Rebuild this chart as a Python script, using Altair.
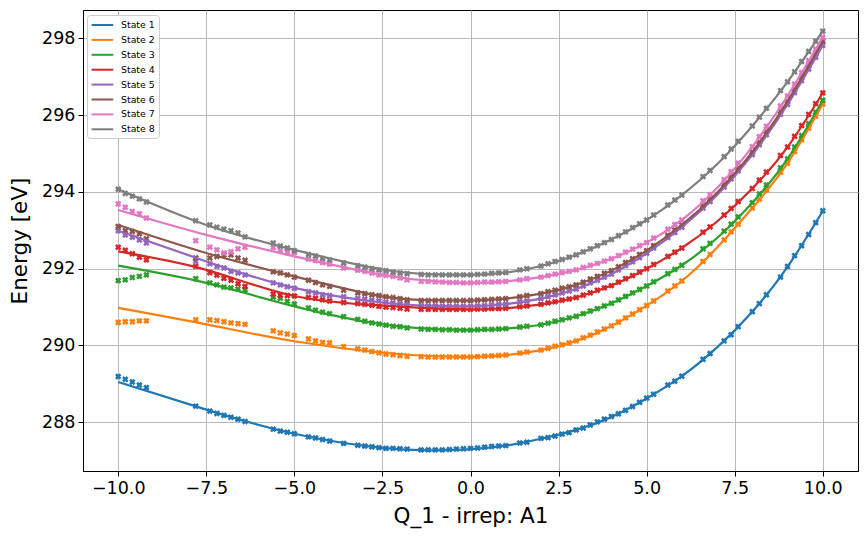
import altair as alt
import pandas as pd

# Sampled displacements along Q_1 (same grid for every state)
x_points = [-10.0, -9.8, -9.6, -9.4, -9.2, -7.8, -7.4, -7.2, -7.0, -6.8, -6.6, -6.4,
            -5.6, -5.4, -5.2, -5.0, -4.6, -4.4, -4.2, -4.0, -3.6, -3.2, -3.0, -2.8,
            -2.6, -2.4, -2.2, -2.0, -1.8, -1.4, -1.2, -1.0, -0.8, -0.6, -0.4, -0.2, 0.0,
            0.2, 0.4, 0.6, 0.8, 1.0, 1.4, 1.6, 2.0, 2.2, 2.4, 2.6, 2.8, 3.0, 3.2, 3.4,
            3.6, 3.8, 4.0, 4.2, 4.4, 4.6, 4.8, 5.0, 5.2, 5.6, 5.8, 6.0, 6.6, 6.8, 7.2,
            7.4, 7.6, 8.0, 8.2, 8.4, 8.8, 9.0, 9.2, 9.4, 9.6, 9.8, 10.0]

# Computed energies (eV) per state
state1_points = [289.19, 289.12, 289.05, 288.97, 288.90, 288.42, 288.29, 288.23, 288.18, 288.13, 288.08, 288.02,
                 287.82, 287.77, 287.74, 287.70, 287.62, 287.59, 287.55, 287.51, 287.45, 287.40, 287.38, 287.36,
                 287.34, 287.32, 287.32, 287.31, 287.30, 287.28, 287.28, 287.28, 287.28, 287.29, 287.30, 287.31, 287.32,
                 287.33, 287.35, 287.37, 287.38, 287.39, 287.46, 287.48, 287.58, 287.60, 287.64, 287.69, 287.73, 287.80, 287.85, 287.93,
                 288.01, 288.08, 288.15, 288.22, 288.31, 288.41, 288.52, 288.63, 288.73, 288.97, 289.07, 289.20, 289.64, 289.79, 290.12,
                 290.28, 290.49, 290.88, 291.09, 291.32, 291.78, 292.06, 292.34, 292.60, 292.89, 293.20, 293.51]
state2_points = [290.60, 290.62, 290.62, 290.64, 290.64, 290.67, 290.67, 290.65, 290.62, 290.59, 290.57, 290.55,
                 290.38, 290.33, 290.30, 290.26, 290.17, 290.12, 290.08, 290.07, 289.97, 289.91, 289.88, 289.84,
                 289.81, 289.78, 289.76, 289.74, 289.72, 289.71, 289.70, 289.70, 289.70, 289.70, 289.70, 289.70, 289.70,
                 289.71, 289.72, 289.73, 289.74, 289.75, 289.80, 289.83, 289.88, 289.93, 289.98, 290.02, 290.07, 290.12, 290.20, 290.27,
                 290.35, 290.43, 290.51, 290.61, 290.72, 290.82, 290.93, 291.04, 291.16, 291.42, 291.55, 291.68, 292.19, 292.37, 292.75,
                 292.96, 293.16, 293.58, 293.81, 294.05, 294.51, 294.75, 295.05, 295.36, 295.66, 295.97, 296.29]
state3_points = [291.69, 291.71, 291.77, 291.80, 291.84, 291.74, 291.63, 291.58, 291.52, 291.50, 291.47, 291.45,
                 291.26, 291.23, 291.15, 291.08, 290.98, 290.92, 290.87, 290.83, 290.75, 290.68, 290.63, 290.59,
                 290.56, 290.53, 290.50, 290.49, 290.46, 290.43, 290.42, 290.42, 290.41, 290.41, 290.40, 290.40, 290.40,
                 290.41, 290.42, 290.42, 290.43, 290.44, 290.48, 290.50, 290.54, 290.58, 290.63, 290.67, 290.72, 290.76, 290.83, 290.90,
                 290.96, 291.03, 291.10, 291.19, 291.28, 291.37, 291.46, 291.55, 291.66, 291.87, 291.98, 292.09, 292.52, 292.66, 292.98,
                 293.16, 293.35, 293.72, 293.95, 294.18, 294.63, 294.86, 295.17, 295.47, 295.78, 296.08, 296.39]
state4_points = [292.56, 292.48, 292.39, 292.30, 292.23, 292.06, 291.90, 291.83, 291.75, 291.70, 291.61, 291.54,
                 291.34, 291.31, 291.30, 291.29, 291.25, 291.23, 291.19, 291.16, 291.12, 291.09, 291.07, 291.05,
                 291.02, 291.00, 290.99, 290.97, 290.95, 290.94, 290.94, 290.94, 290.94, 290.94, 290.94, 290.94, 290.94,
                 290.95, 290.95, 290.96, 290.96, 290.97, 291.01, 291.03, 291.07, 291.11, 291.14, 291.18, 291.21, 291.25, 291.31, 291.37,
                 291.44, 291.50, 291.56, 291.65, 291.74, 291.82, 291.91, 292.00, 292.11, 292.32, 292.43, 292.54, 292.95, 293.09, 293.40,
                 293.57, 293.75, 294.09, 294.31, 294.52, 294.95, 295.17, 295.45, 295.73, 296.02, 296.30, 296.58]
state5_points = [292.99, 292.88, 292.82, 292.75, 292.67, 292.19, 292.13, 292.06, 292.02, 291.93, 291.89, 291.84,
                 291.63, 291.58, 291.53, 291.49, 291.40, 291.37, 291.32, 291.30, 291.27, 291.23, 291.21, 291.18,
                 291.16, 291.13, 291.11, 291.09, 291.07, 291.04, 291.03, 291.03, 291.02, 291.02, 291.02, 291.02, 291.02,
                 291.03, 291.04, 291.06, 291.07, 291.08, 291.14, 291.16, 291.22, 291.27, 291.32, 291.37, 291.42, 291.47, 291.55, 291.63,
                 291.70, 291.78, 291.86, 291.97, 292.08, 292.18, 292.29, 292.40, 292.54, 292.81, 292.94, 293.08, 293.58, 293.75, 294.13,
                 294.34, 294.55, 294.97, 295.23, 295.49, 296.02, 296.28, 296.59, 296.90, 297.20, 297.51, 297.82]
state6_points = [293.10, 292.99, 292.97, 292.91, 292.78, 292.28, 292.28, 292.32, 292.36, 292.36, 292.28, 292.22,
                 291.92, 291.89, 291.84, 291.78, 291.70, 291.64, 291.58, 291.54, 291.44, 291.37, 291.35, 291.32,
                 291.30, 291.27, 291.25, 291.22, 291.19, 291.17, 291.17, 291.17, 291.17, 291.17, 291.17, 291.17, 291.17,
                 291.18, 291.19, 291.20, 291.21, 291.22, 291.27, 291.30, 291.35, 291.40, 291.44, 291.49, 291.53, 291.58, 291.65, 291.73,
                 291.80, 291.88, 291.95, 292.05, 292.16, 292.26, 292.37, 292.47, 292.60, 292.87, 293.01, 293.14, 293.64, 293.81, 294.19,
                 294.40, 294.62, 295.04, 295.30, 295.57, 296.10, 296.36, 296.67, 296.99, 297.30, 297.62, 297.93]
state7_points = [293.69, 293.60, 293.49, 293.43, 293.32, 292.73, 292.56, 292.49, 292.41, 292.44, 292.52, 292.56,
                 292.55, 292.47, 292.43, 292.42, 292.25, 292.21, 292.16, 292.12, 292.02, 291.96, 291.93, 291.89,
                 291.84, 291.83, 291.80, 291.76, 291.71, 291.67, 291.67, 291.66, 291.65, 291.64, 291.64, 291.63, 291.63,
                 291.64, 291.65, 291.65, 291.66, 291.67, 291.71, 291.74, 291.78, 291.82, 291.86, 291.90, 291.93, 291.97, 292.03, 292.09,
                 292.14, 292.20, 292.26, 292.34, 292.43, 292.51, 292.60, 292.68, 292.80, 293.03, 293.15, 293.27, 293.77, 293.93, 294.32,
                 294.53, 294.75, 295.18, 295.44, 295.71, 296.24, 296.50, 296.81, 297.11, 297.42, 297.72, 298.03]
state8_points = [294.07, 293.96, 293.89, 293.82, 293.74, 293.25, 293.14, 293.08, 293.03, 292.99, 292.93, 292.83,
                 292.67, 292.59, 292.54, 292.47, 292.37, 292.33, 292.27, 292.23, 292.15, 292.08, 292.04, 292.00,
                 291.97, 291.95, 291.91, 291.89, 291.87, 291.85, 291.84, 291.84, 291.84, 291.84, 291.84, 291.84, 291.84,
                 291.85, 291.86, 291.88, 291.89, 291.90, 291.97, 292.00, 292.07, 292.13, 292.19, 292.24, 292.30, 292.36, 292.44, 292.52,
                 292.60, 292.68, 292.76, 292.86, 292.96, 293.07, 293.17, 293.27, 293.40, 293.66, 293.79, 293.92, 294.40, 294.56, 294.92,
                 295.12, 295.32, 295.72, 295.95, 296.18, 296.64, 296.87, 297.13, 297.40, 297.66, 297.93, 298.19]

# Fitted curves, sampled at these displacements
fit_x = [-10.0, -7.5, -5.0, -2.5, -1.0, 0.0, 1.0, 2.0, 3.0, 4.0, 5.0, 6.0, 7.0, 8.0, 9.0, 10.0]
state1_fit = [289.05, 288.33, 287.70, 287.33, 287.27, 287.30, 287.39, 287.57, 287.80, 288.14, 288.62, 289.20, 289.95, 290.88, 292.05, 293.50]
state2_fit = [290.98, 290.55, 290.11, 289.81, 289.72, 289.70, 289.75, 289.88, 290.12, 290.51, 291.04, 291.68, 292.55, 293.58, 294.75, 296.29]
state3_fit = [292.08, 291.63, 291.02, 290.55, 290.43, 290.40, 290.44, 290.54, 290.76, 291.10, 291.55, 292.09, 292.80, 293.72, 294.86, 296.39]
state4_fit = [292.45, 291.97, 291.29, 291.04, 290.96, 290.94, 290.97, 291.07, 291.25, 291.56, 292.00, 292.54, 293.23, 294.09, 295.17, 296.58]
state5_fit = [292.99, 292.19, 291.50, 291.12, 291.03, 291.02, 291.08, 291.22, 291.47, 291.86, 292.40, 293.08, 293.92, 294.97, 296.28, 297.82]
state6_fit = [293.14, 292.41, 291.80, 291.28, 291.18, 291.17, 291.22, 291.35, 291.58, 291.95, 292.47, 293.14, 293.98, 295.04, 296.36, 297.93]
state7_fit = [293.53, 292.88, 292.32, 291.84, 291.67, 291.63, 291.67, 291.78, 291.97, 292.26, 292.68, 293.27, 294.10, 295.18, 296.50, 298.03]
state8_fit = [294.07, 293.14, 292.49, 291.98, 291.85, 291.84, 291.90, 292.07, 292.36, 292.76, 293.27, 293.92, 294.72, 295.72, 296.87, 298.19]

state_names = [f"State {i}" for i in range(1, 9)]
state_colors = ["#1f77b4", "#ff7f0e", "#2ca02c", "#d62728",
                "#9467bd", "#8c564b", "#e377c2", "#7f7f7f"]
x_ticks = [-10.0, -7.5, -5.0, -2.5, 0.0, 2.5, 5.0, 7.5, 10.0]
y_ticks = [288, 290, 292, 294, 296, 298]

point_series = [state1_points, state2_points, state3_points, state4_points,
                state5_points, state6_points, state7_points, state8_points]
fit_series = [state1_fit, state2_fit, state3_fit, state4_fit,
              state5_fit, state6_fit, state7_fit, state8_fit]

points_df = pd.concat(
    [pd.DataFrame({"q": x_points, "energy": vals, "state": name})
     for name, vals in zip(state_names, point_series)],
    ignore_index=True)
fits_df = pd.concat(
    [pd.DataFrame({"q": fit_x, "energy": vals, "state": name})
     for name, vals in zip(state_names, fit_series)],
    ignore_index=True)

x_enc = alt.X("q:Q", title="Q_1 - irrep: A1",
              scale=alt.Scale(domain=[-11, 11], nice=False, zero=False),
              axis=alt.Axis(values=x_ticks, format=".1f"))
y_enc = alt.Y("energy:Q", title="Energy [eV]",
              scale=alt.Scale(domain=[286.73, 298.74], nice=False, zero=False),
              axis=alt.Axis(values=y_ticks, format="d"))
color_scale = alt.Scale(domain=state_names, range=state_colors)

# Legend shows the fitted curves as short line segments (a custom path keeps
# the rows compact while the segment stays long)
state_legend = alt.Legend(orient="none", legendX=4, legendY=5,
                          symbolType="M-1,0L3,0", symbolSize=118,
                          symbolStrokeWidth=2, symbolFillColor="transparent",
                          labelFontSize=9.4, labelOffset=17.5,
                          rowPadding=3.9, padding=3.5,
                          strokeColor="#cccccc", fillColor="white",
                          cornerRadius=3, title=None)

markers = alt.Chart(points_df).mark_point(
    shape="cross", angle=45, filled=True, size=42, opacity=1
).encode(
    x=x_enc, y=y_enc,
    color=alt.Color("state:N", scale=color_scale, legend=state_legend),
)

curves = alt.Chart(fits_df).mark_line(interpolate="natural", strokeWidth=2.2).encode(
    x=x_enc, y=y_enc,
    color=alt.Color("state:N", scale=color_scale, legend=state_legend),
    detail="state:N",
)

chart = alt.layer(markers, curves).properties(
    width=775, height=461,
    padding={"left": 83, "top": 10, "right": 9, "bottom": 66},
    autosize=alt.AutoSizeParams(type="none"),
).configure(
    font="DejaVu Sans",
).configure_view(
    stroke="black", strokeWidth=1,
).configure_axis(
    grid=True, gridColor="#b0b0b0", gridWidth=0.9,
    domainColor="black", tickColor="black", tickSize=5, tickWidth=1,
    labelFontSize=17.5, labelColor="black", labelPadding=3,
    labelFlush=False, labelOverlap=False,
    titleFontSize=21.5, titleFontWeight="normal", titleColor="black",
).configure_axisX(
    titlePadding=9,
).configure_axisY(
    titlePadding=10,
).configure_legend(
    labelFont="DejaVu Sans", labelColor="black",
)

chart.save("out.html", embed_options={"renderer": "svg", "actions": False})
